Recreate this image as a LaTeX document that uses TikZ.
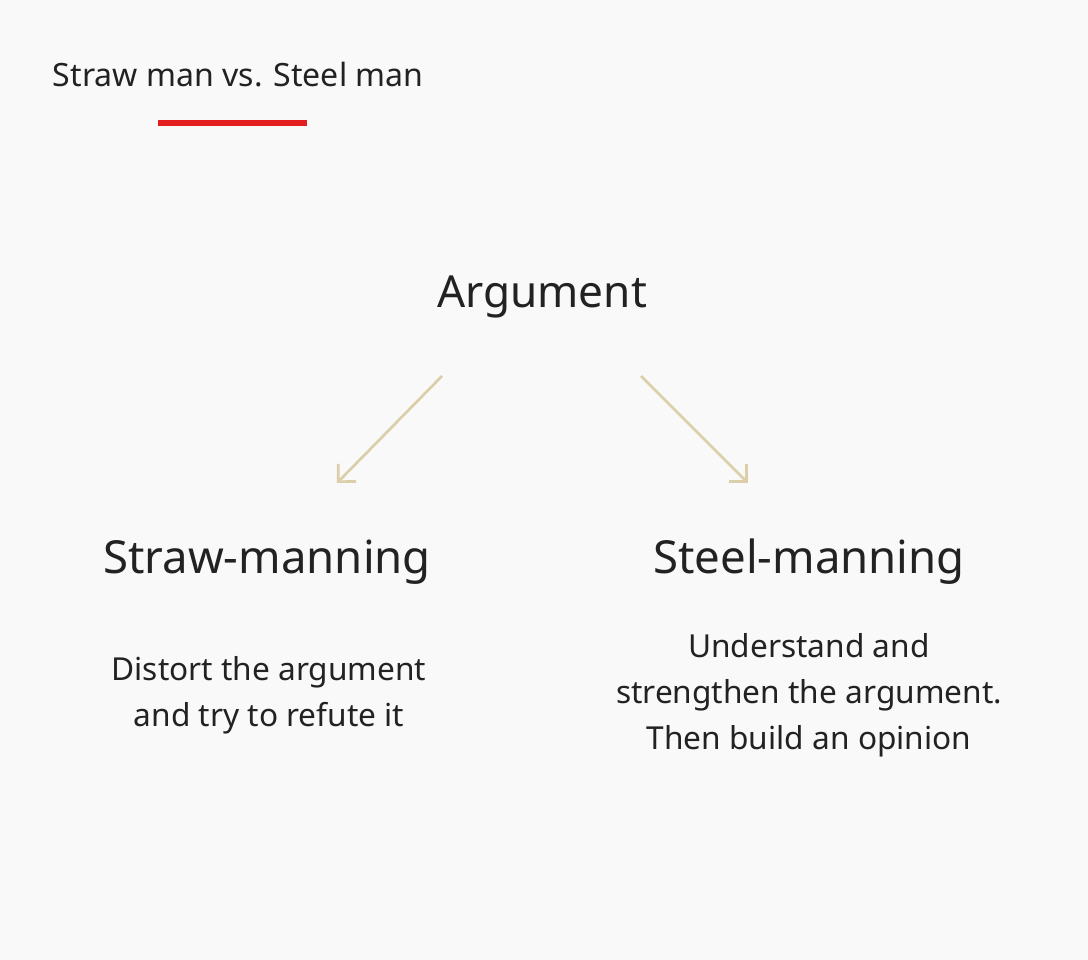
\documentclass[tikz,border=0pt]{standalone}
\usepackage{fontspec}
\setmainfont{Noto Sans}
\usetikzlibrary{arrows.meta}
\definecolor{bgcol}{RGB}{249,249,249}
\definecolor{tan}{RGB}{218,207,168}
\definecolor{redline}{RGB}{226,30,30}
\definecolor{ink}{RGB}{34,34,34}
\tikzset{
	head/.style={text=ink, font=\fontsize{32.4}{40}\selectfont},
	body/.style={text=ink, align=center, font=\fontsize{22.5}{32.6}\selectfont},
	link/.style={tan, line width=1.9pt, -{Straight Barb[length=9pt,width=18pt]}}
}
\begin{document}
\begin{tikzpicture}[x=0.025cm, y=-0.025cm]
	\fill [bgcol] (0, 0) rectangle (1088, 960);
	\useasboundingbox (0, 0) rectangle (1088, 960);

	\node [anchor=west, text=ink, font=\fontsize{22.8}{27}\selectfont] (title) at (48, 75) {Straw man vs. Steel man};
	\draw [redline, line width=3.6pt] (158, 123) -- (307, 123);

	\node [head, font=\fontsize{31.4}{40}\selectfont] (arg) at (542, 297) {Argument};
	\node [head] (straw) at (267, 562) {Straw-manning};
	\node [head] (steel) at (809, 562) {Steel-manning};

	\node [body] (strawtxt) at (269, 695) {Distort the argument\\and try to refute it};
	\node [body] (steeltxt) at (809, 695) {Understand and\\strengthen the argument.\\Then build an opinion};

	\coordinate (a1) at (442, 376);
	\coordinate (b1) at (337, 483);
	\coordinate (a2) at (641, 376);
	\coordinate (b2) at (748, 483);
	\draw [link] (a1) -- (b1);
	\draw [link] (a2) -- (b2);
\end{tikzpicture}
\end{document}
